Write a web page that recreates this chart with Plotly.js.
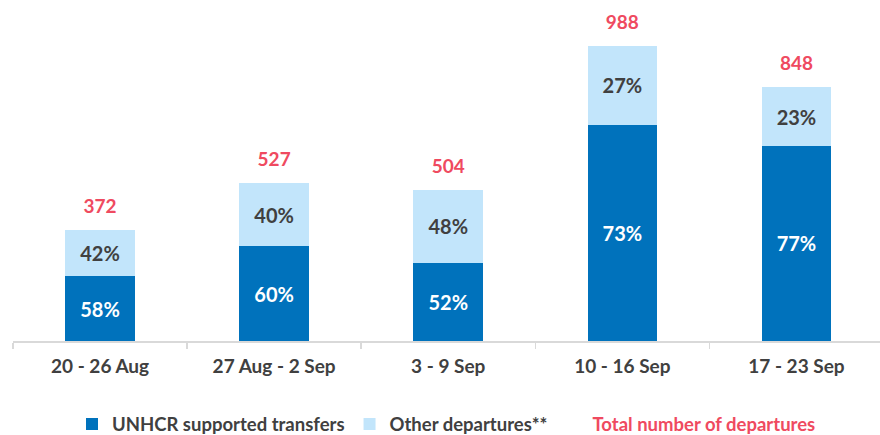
<!DOCTYPE html>
<html>
<head>
<meta charset="utf-8">
<script src="https://cdn.plot.ly/plotly-3.0.1.min.js"></script>
<style>html,body{margin:0;padding:0;background:#fff;}#chart{width:880px;height:435px;}</style>
</head>
<body>
<div id="chart"></div>
<script>
const categories = ["20 - 26 Aug", "27 Aug - 2 Sep", "3 - 9 Sep", "10 - 16 Sep", "17 - 23 Sep"];
const unhcrTransfers = [216, 316, 262, 721, 653];
const otherDepartures = [156, 211, 242, 267, 195];
const totalDepartures = [372, 527, 504, 988, 848];
const unhcrPctLabels = ["58%", "60%", "52%", "73%", "77%"];
const otherPctLabels = ["42%", "40%", "48%", "27%", "23%"];

const FONT = "Lato, 'Open Sans', sans-serif";
const DARK = "#0072BC";
const LIGHT = "#C2E5FB";
const RED = "#EF4A60";
const GREY = "#404040";

const traces = [
  {
    type: "bar", name: "UNHCR supported transfers",
    x: categories, y: unhcrTransfers, text: unhcrPctLabels,
    textposition: "inside", insidetextanchor: "middle", textangle: 0,
    constraintext: "none",
    insidetextfont: {family: FONT, size: 20, color: "#ffffff", weight: 700},
    marker: {color: DARK}, hoverinfo: "skip"
  },
  {
    type: "bar", name: "Other departures**",
    x: categories, y: otherDepartures, text: otherPctLabels,
    textposition: "inside", insidetextanchor: "middle", textangle: 0,
    constraintext: "none",
    insidetextfont: {family: FONT, size: 20, color: GREY, weight: 700},
    marker: {color: LIGHT}, hoverinfo: "skip"
  },
  {
    type: "scatter", mode: "markers+text",
    name: '<span style="color:' + RED + '">Total number of departures</span>',
    x: categories, y: totalDepartures, text: totalDepartures.map(String),
    textposition: "top center",
    textfont: {family: FONT, size: 19, color: RED, weight: 700},
    marker: {size: 18, color: "rgba(0,0,0,0)"},
    cliponaxis: false, hoverinfo: "skip"
  }
];

const layout = {
  width: 880, height: 435,
  margin: {l: 13, r: 0, t: 12, b: 94, autoexpand: false},
  paper_bgcolor: "#ffffff", plot_bgcolor: "#ffffff",
  barmode: "stack", bargap: 0.6,
  font: {family: FONT, color: GREY},
  showlegend: true,
  legend: {
    orientation: "h", x: 0.5, xanchor: "center", y: -0.254, yanchor: "middle",
    font: {family: FONT, size: 18.5, color: GREY, weight: 700},
    traceorder: "normal", itemwidth: 30
  },
  xaxis: {
    type: "category", range: [-0.5, 4.48],
    showline: true, linecolor: "#D9D9D9", linewidth: 1.5,
    ticks: "outside", tickson: "boundaries", ticklen: 6, tickcolor: "#D9D9D9", tickwidth: 1.5,
    ticklabelstandoff: 8,
    tickfont: {family: FONT, size: 19, color: GREY, weight: 700},
    showgrid: false, zeroline: false, fixedrange: true
  },
  yaxis: {
    range: [0, 1100], visible: false, showgrid: false, zeroline: false, fixedrange: true
  }
};

Plotly.newPlot("chart", traces, layout, {displayModeBar: false, staticPlot: true});
</script>
</body>
</html>
